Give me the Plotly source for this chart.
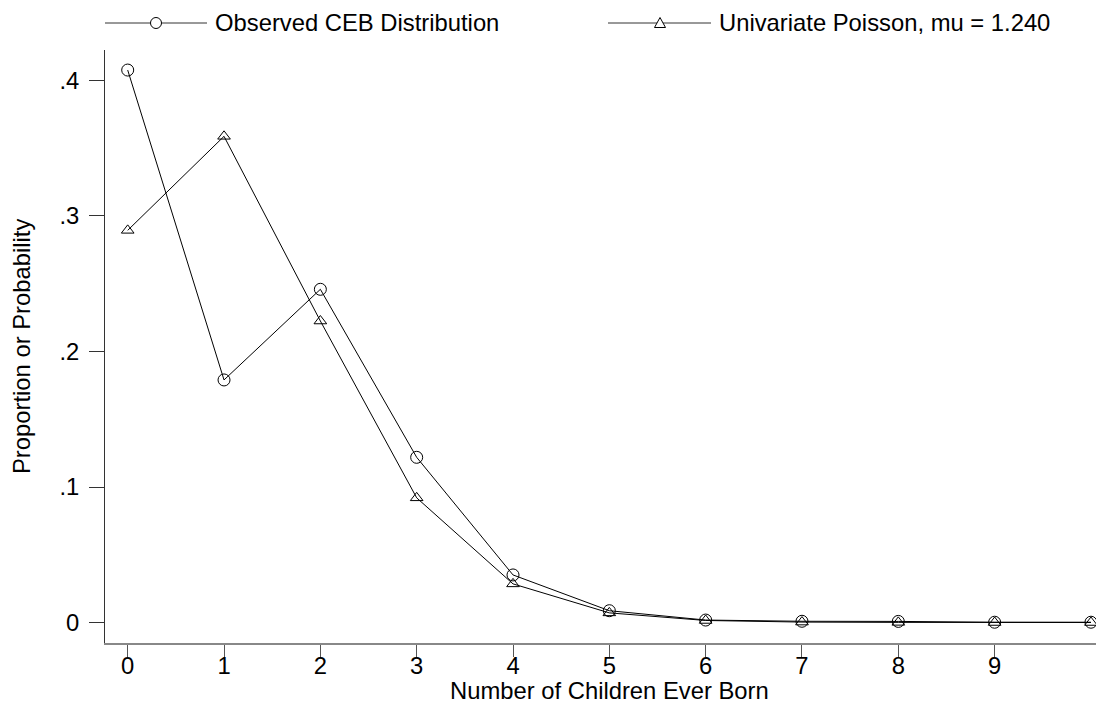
import plotly.graph_objects as go

# ---- data ----
children = [0, 1, 2, 3, 4, 5, 6, 7, 8, 9, 10]
observed = [0.4077, 0.1790, 0.2459, 0.1219, 0.0351, 0.0087, 0.0018, 0.0009, 0.0008, 0.0002, 0.0002]
poisson = [0.2894, 0.3588, 0.2225, 0.0920, 0.0285, 0.0071, 0.0015, 0.0003, 0.0001, 0.0000, 0.0000]

x_tickvals = [0, 1, 2, 3, 4, 5, 6, 7, 8, 9]
x_ticktext = ["0", "1", "2", "3", "4", "5", "6", "7", "8", "9"]
y_tickvals = [0, 0.1, 0.2, 0.3, 0.4]
y_ticktext = ["0", ".1", ".2", ".3", ".4"]

series_names = ["Observed CEB Distribution", "Univariate Poisson, mu = 1.240"]
x_title = "Number of Children Ever Born"
y_title = "Proportion or Probability"

FONT = "Liberation Sans, Arial, sans-serif"
FS = 23.8

# page has an 8px body margin; work in reference-screen pixels and offset
OFF = 8
W, H = 1104 - OFF, 704 - OFF
ML, MT = 105 - OFF, 50 - OFF
MR = W - (1103 - OFF)
MB = H - (643 - OFF)
PW = W - ML - MR
PH = H - MT - MB


def px2paper_x(px):
    return (px - OFF - ML) / PW


def px2paper_y(py):
    return (H - MB - (py - OFF)) / PH


fig = go.Figure()
fig.add_trace(go.Scatter(
    x=children, y=observed, mode="lines+markers", name=series_names[0],
    line=dict(color="black", width=1),
    marker=dict(symbol="circle-open", size=12, color="black", line=dict(width=1)),
    showlegend=False,
))
fig.add_trace(go.Scatter(
    x=children, y=poisson, mode="lines+markers", name=series_names[1],
    line=dict(color="black", width=1),
    marker=dict(symbol="triangle-up-open", size=11, color="black", line=dict(width=1)),
    showlegend=False,
))

# ---- manual legend (long line samples) ----
shapes = []
annotations = []
legend_items = [
    (105, 207, 156, "circle", series_names[0], 213),
    (608, 711, 660, "triangle", series_names[1], 717),
]
ly = px2paper_y(23)
for x0, x1, xm, sym, label, tx in legend_items:
    shapes.append(dict(type="line", xref="paper", yref="paper",
                       x0=px2paper_x(x0), x1=px2paper_x(x1), y0=ly, y1=ly,
                       line=dict(color="#333333", width=1)))
    if sym == "circle":
        shapes.append(dict(type="circle", xref="paper", yref="paper",
                           xsizemode="pixel", ysizemode="pixel",
                           xanchor=px2paper_x(xm), yanchor=ly,
                           x0=-5.5, x1=5.5, y0=-5.5, y1=5.5,
                           line=dict(color="black", width=1), fillcolor="white"))
    else:
        shapes.append(dict(type="path", xref="paper", yref="paper",
                           xsizemode="pixel", ysizemode="pixel",
                           xanchor=px2paper_x(xm), yanchor=ly,
                           path="M -5.5 -4.5 L 5.5 -4.5 L 0 5.5 Z",
                           line=dict(color="black", width=1), fillcolor="white"))
    annotations.append(dict(xref="paper", yref="paper", x=px2paper_x(tx), y=ly,
                            xanchor="left", yanchor="middle", showarrow=False,
                            text=label, font=dict(family=FONT, size=FS, color="black")))

# axis titles as annotations (fixed positions)
annotations.append(dict(xref="paper", yref="paper", x=px2paper_x(609), y=px2paper_y(690),
                        xanchor="center", yanchor="middle", showarrow=False,
                        text=x_title, font=dict(family=FONT, size=FS, color="black")))
annotations.append(dict(xref="paper", yref="paper", x=px2paper_x(21), y=px2paper_y(347),
                        xanchor="center", yanchor="middle", showarrow=False, textangle=-90,
                        text=y_title, font=dict(family=FONT, size=FS, color="black")))

fig.update_layout(
    width=W, height=H,
    margin=dict(l=ML, r=MR, t=MT, b=MB, pad=0, autoexpand=False),
    paper_bgcolor="white", plot_bgcolor="white",
    font=dict(family=FONT, size=FS, color="black"),
    shapes=shapes, annotations=annotations,
    showlegend=False,
    xaxis=dict(
        range=[-0.2357, 10.125], tickvals=x_tickvals, ticktext=x_ticktext,
        showgrid=False, zeroline=False, showline=True, linecolor="#888888", linewidth=2,
        ticks="outside", ticklen=12, tickcolor="#555555", tickwidth=1,
        ticklabelstandoff=-12,
        automargin=False, tickfont=dict(family=FONT, size=FS),
    ),
    yaxis=dict(
        range=[-0.01513, 0.4225], tickvals=y_tickvals, ticktext=y_ticktext,
        showgrid=False, zeroline=False, showline=True, linecolor="#333333", linewidth=1,
        ticks="outside", ticklen=15, tickcolor="#333333", tickwidth=1,
        ticklabelstandoff=5,
        automargin=False, tickfont=dict(family=FONT, size=FS),
    ),
)

fig.write_html("out.html")
